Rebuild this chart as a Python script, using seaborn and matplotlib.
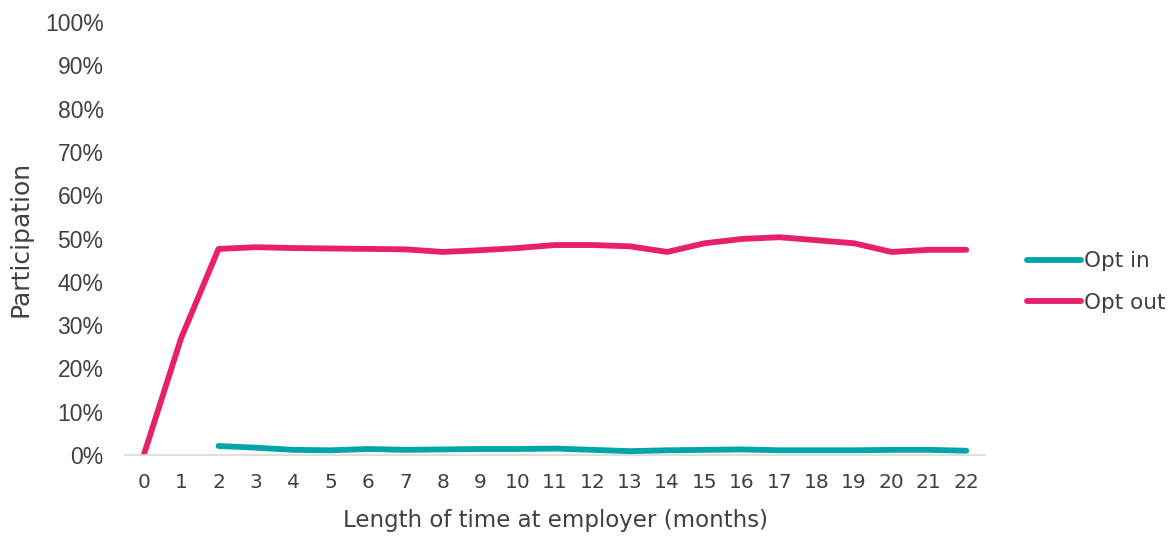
import numpy as np
import pandas as pd
import seaborn as sns
import matplotlib
matplotlib.use("Agg")
import matplotlib.pyplot as plt
from matplotlib.ticker import PercentFormatter

months = list(range(0, 23))
opt_out = [0.0, 27.0, 47.6, 48.0, 47.8, 47.7, 47.6, 47.5, 46.9, 47.3, 47.8,
           48.5, 48.5, 48.2, 46.9, 48.9, 49.9, 50.3, 49.6, 48.9, 46.9, 47.4, 47.4]
opt_in = [np.nan, np.nan, 2.1, 1.7, 1.2, 1.1, 1.4, 1.2, 1.3, 1.4, 1.4,
          1.5, 1.2, 0.9, 1.1, 1.2, 1.3, 1.1, 1.1, 1.1, 1.2, 1.2, 1.0]
series_names = ["Opt in", "Opt out"]
colors = {"Opt in": "#00A5A8", "Opt out": "#E6206A"}

df = pd.DataFrame({
    "month": months * 2,
    "value": opt_in + opt_out,
    "series": [series_names[0]] * len(months) + [series_names[1]] * len(months),
})

sns.set_theme(style="white")
plt.rcParams["font.family"] = ["DejaVu Sans"]

fig = plt.figure(figsize=(11.72, 5.36), dpi=100)
ax = fig.add_axes([0.1067, 0.151, 0.7337, 0.808])

sns.lineplot(data=df, x="month", y="value", hue="series", palette=colors,
             hue_order=series_names, linewidth=4.2, ax=ax, legend=True)
for ln in ax.get_lines():
    ln.set_solid_capstyle("round")
    ln.set_solid_joinstyle("round")

ax.set_xlim(-0.5, 22.5)
ax.set_ylim(0, 100)
ax.set_xticks(months)
ax.set_xticklabels([str(m) for m in months], fontsize=14.5, color="#404040")
ax.set_yticks(range(0, 101, 10))
ax.yaxis.set_major_formatter(PercentFormatter(decimals=0))
for t in ax.get_yticklabels():
    t.set_fontfamily(["Liberation Sans"])
    t.set_fontsize(16.5)
    t.set_color("#404040")
ax.tick_params(axis="both", length=0)
ax.tick_params(axis="x", pad=13)
ax.tick_params(axis="y", pad=15.5)

for s in ["top", "right", "left"]:
    ax.spines[s].set_visible(False)
ax.spines["bottom"].set_color("#D9D9D9")
ax.spines["bottom"].set_linewidth(1.2)

ax.set_xlabel("Length of time at employer (months)", fontsize=16.5, color="#404040", labelpad=12)
ax.set_ylabel("Participation", fontsize=18, color="#404040", labelpad=9)

handles, labels = ax.get_legend_handles_labels()
leg = ax.legend(handles, labels, loc="center left", bbox_to_anchor=(1.026, 0.40),
                frameon=False, fontsize=15.5, handlelength=2.5, handletextpad=0.15,
                labelspacing=1.0, labelcolor="#404040")
for h in leg.get_lines():
    h.set_linewidth(4.2)
    h.set_solid_capstyle("round")

fig.savefig("out.png", dpi=100, facecolor="white")
